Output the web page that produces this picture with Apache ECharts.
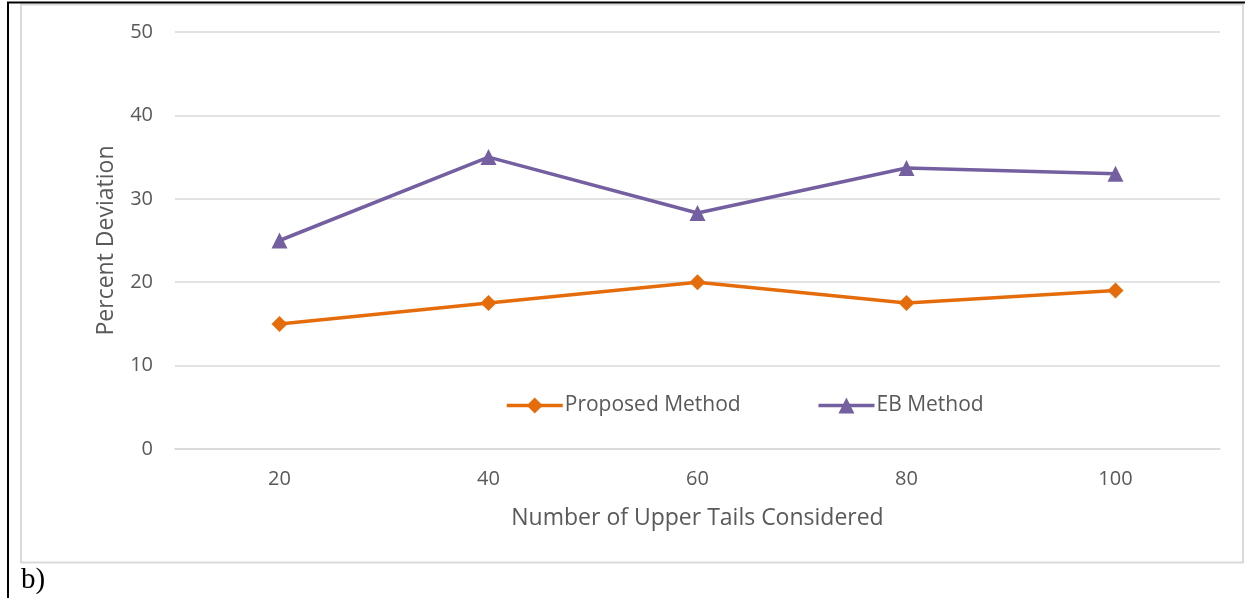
<!DOCTYPE html>
<html>
<head>
<meta charset="utf-8">
<script src="https://cdn.jsdelivr.net/npm/echarts@6/dist/echarts.min.js"></script>
<style>
html,body{margin:0;padding:0;background:#fff;}
#chart{width:1253px;height:598px;}
</style>
</head>
<body>
<div id="chart"></div>
<script>
const categories = ['20', '40', '60', '80', '100'];
const proposedMethod = [15, 17.5, 20, 17.5, 19];
const ebMethod = [25, 35, 28.3, 33.7, 33];
const seriesNames = ['Proposed Method', 'EB Method'];
const xTitle = 'Number of Upper Tails Considered';
const yTitle = 'Percent Deviation';
const panelLabel = 'b)';

const FONT = '"Open Sans", sans-serif';
const TXT = '#595959';
const chart = echarts.init(document.getElementById('chart'), null, {renderer: 'canvas'});
chart.setOption({
  animation: false,
  backgroundColor: '#fff',
  grid: {left: 175, right: 33, top: 32, bottom: 149, containLabel: false},
  legend: {
    top: 390, left: 500,
    itemWidth: 56, itemHeight: 20, itemGap: 76,
    lineStyle: {width: 3.5},
    textStyle: {fontFamily: FONT, fontSize: 21, color: TXT, padding: [0, 0, 0, -3]},
    data: seriesNames
  },
  xAxis: {
    type: 'category', data: categories, boundaryGap: true,
    name: xTitle, nameLocation: 'middle', nameGap: 58,
    nameTextStyle: {fontFamily: FONT, fontSize: 23, color: TXT},
    axisLine: {show: true, lineStyle: {color: '#d9d9d9', width: 1.5}},
    axisTick: {show: false},
    axisLabel: {fontFamily: FONT, fontSize: 20, color: TXT, margin: 20}
  },
  yAxis: {
    type: 'value', min: 0, max: 50, interval: 10,
    name: yTitle, nameLocation: 'middle', nameGap: 57,
    nameTextStyle: {fontFamily: FONT, fontSize: 23, color: TXT},
    axisLine: {show: false}, axisTick: {show: false},
    axisLabel: {fontFamily: FONT, fontSize: 20, color: TXT, margin: 22},
    splitLine: {lineStyle: {color: '#d9d9d9', width: 1.5}}
  },
  series: [
    {
      name: seriesNames[0], type: 'line', data: proposedMethod,
      symbol: 'diamond', symbolSize: 16,
      lineStyle: {color: '#E46C0A', width: 3.5},
      itemStyle: {color: '#E46C0A'}
    },
    {
      name: seriesNames[1], type: 'line', data: ebMethod,
      symbol: 'triangle', symbolSize: 16,
      lineStyle: {color: '#7460A0', width: 3.5},
      itemStyle: {color: '#7460A0'}
    }
  ],
  graphic: [
    {type: 'rect', shape: {x: 21, y: 4.5, width: 1222, height: 558}, style: {fill: 'none', stroke: '#d9d9d9', lineWidth: 2}, silent: true},
    {type: 'line', shape: {x1: 7, y1: 2.5, x2: 1245, y2: 2.5}, style: {stroke: '#000', lineWidth: 2}},
    {type: 'line', shape: {x1: 8, y1: 2, x2: 8, y2: 598}, style: {stroke: '#000', lineWidth: 2}},
    {type: 'text', left: 21, top: 566, style: {text: panelLabel, font: '29px "Liberation Serif", "DejaVu Serif", serif', fill: '#000'}}
  ]
});
</script>
</body>
</html>
